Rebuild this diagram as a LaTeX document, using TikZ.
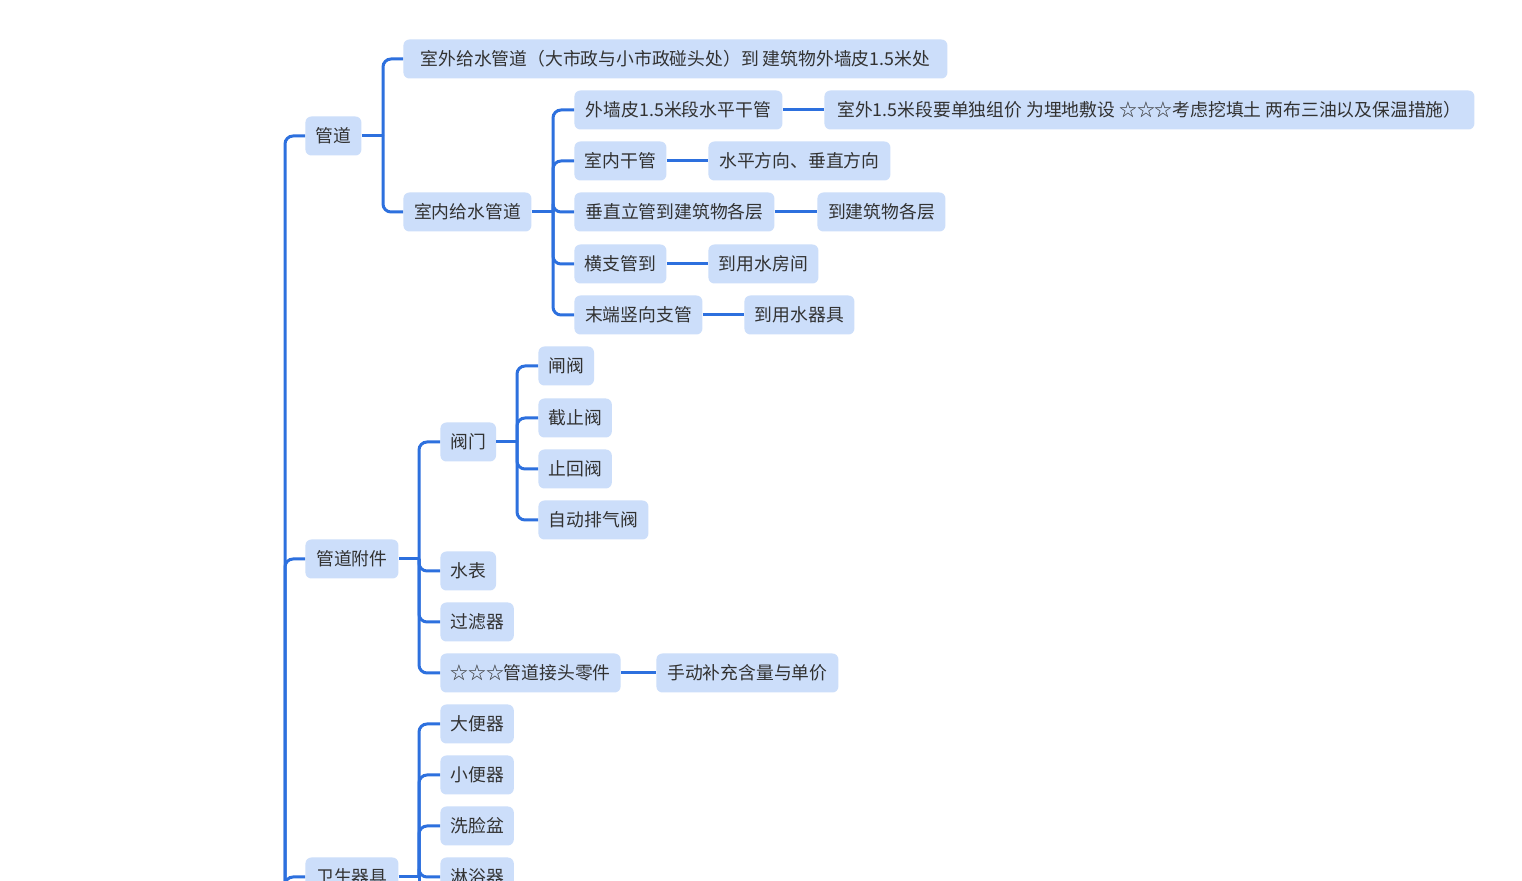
\documentclass[tikz,border=0pt]{standalone}
\usepackage{fontspec}
\setmainfont{Noto Sans CJK SC}
\definecolor{nodefill}{RGB}{204,222,250}
\definecolor{linecol}{RGB}{45,112,222}
\definecolor{txt}{RGB}{50,50,50}
\begin{document}
\begin{tikzpicture}[x=0.5pt,y=-0.5pt,
  box/.style={fill=nodefill, rounded corners=3pt, text=txt,
    font=\fontsize{8.9pt}{10pt}\selectfont, minimum height=19.5pt,
    inner xsep=5pt, inner ysep=0pt, anchor=west},
  w/.style={minimum width=#1*0.5pt},
  conn/.style={draw=linecol, line width=1.5pt, rounded corners=4pt}]
\useasboundingbox (0,0) rectangle (1522,881);
\clip (0,0) rectangle (1522,881);
\fill[white] (0,0) rectangle (1522,881);

% level 1
\node[box,w=56] (gd) at (305,136) {管道};
\node[box,w=93] (gdfj) at (305,559) {管道附件};
\node[box,w=93] (wsqj) at (305,877) {卫生器具};

% under 管道
\node[box,w=544] (swgs) at (403,59) {室外给水管道（大市政与小市政碰头处）到 建筑物外墙皮1.5米处};
\node[box,w=128] (sngs) at (403,212) {室内给水管道};

% under 室内给水管道
\node[box,w=208] (wqp) at (574,110) {外墙皮1.5米段水平干管};
\node[box,w=650] (wqpd) at (824,110) {室外1.5米段要单独组价 为埋地敷设 ☆☆☆考虑挖填土 两布三油以及保温措施）};
\node[box,w=92] (sngg) at (574,161) {室内干管};
\node[box,w=182] (snggd) at (708,161) {水平方向、垂直方向};
\node[box,w=200] (czlg) at (574,212) {垂直立管到建筑物各层};
\node[box,w=128] (czlgd) at (817,212) {到建筑物各层};
\node[box,w=92] (hzg) at (574,264) {横支管到};
\node[box,w=110] (hzgd) at (708,264) {到用水房间};
\node[box,w=128] (mdsx) at (574,315) {末端竖向支管};
\node[box,w=110] (mdsxd) at (744,315) {到用水器具};

% under 管道附件
\node[box,w=55] (fm) at (440,442) {阀门};
\node[box,w=55] (zf) at (538,366) {闸阀};
\node[box,w=73] (jzf) at (538,418) {截止阀};
\node[box,w=73] (zhf) at (538,469) {止回阀};
\node[box,w=110] (zdpqf) at (538,520) {自动排气阀};
\node[box,w=55] (sb) at (440,571) {水表};
\node[box,w=73] (glq) at (440,622) {过滤器};
\node[box,w=174] (gdjt) at (440,673) {☆☆☆管道接头零件};
\node[box,w=182] (sdbc) at (656,673) {手动补充含量与单价};

% under 卫生器具
\node[box,w=73] (dbq) at (440,724) {大便器};
\node[box,w=73] (xbq) at (440,775) {小便器};
\node[box,w=73] (xlp) at (440,826) {洗脸盆};
\node[box,w=73] (lyq) at (440,877) {淋浴器};

% trunk
\coordinate (root) at (285,1000);
\draw[conn] (root) |- (gd.west);
\draw[conn] (root) |- (gdfj.west);
\draw[conn] (root) |- (wsqj.west);

% 管道 bus
\coordinate (b1) at (383,136);
\draw[conn] (gd.east) -- (b1);
\draw[conn] (b1) |- (swgs.west);
\draw[conn] (b1) |- (sngs.west);

% 室内给水管道 bus
\coordinate (b2) at (553,212);
\draw[conn] (sngs.east) -- (b2);
\foreach \c in {wqp,sngg,czlg,hzg,mdsx} \draw[conn] (b2) |- (\c.west);
\draw[conn] (wqp.east) -- (wqpd.west);
\draw[conn] (sngg.east) -- (snggd.west);
\draw[conn] (czlg.east) -- (czlgd.west);
\draw[conn] (hzg.east) -- (hzgd.west);
\draw[conn] (mdsx.east) -- (mdsxd.west);

% 管道附件 bus
\coordinate (b3) at (419,559);
\draw[conn] (gdfj.east) -- (b3);
\foreach \c in {fm,sb,glq,gdjt} \draw[conn] (b3) |- (\c.west);
\draw[conn] (gdjt.east) -- (sdbc.west);

% 阀门 bus
\coordinate (b4) at (517,442);
\draw[conn] (fm.east) -- (b4);
\foreach \c in {zf,jzf,zhf,zdpqf} \draw[conn] (b4) |- (\c.west);

% 卫生器具 bus
\coordinate (b5) at (419,877);
\coordinate (b5low) at (419,1000);
\draw[conn] (wsqj.east) -- (b5);
\foreach \c in {dbq,xbq,xlp,lyq} \draw[conn] (b5) |- (\c.west);
\draw[conn] (b5) -- (b5low);
\end{tikzpicture}
\end{document}
